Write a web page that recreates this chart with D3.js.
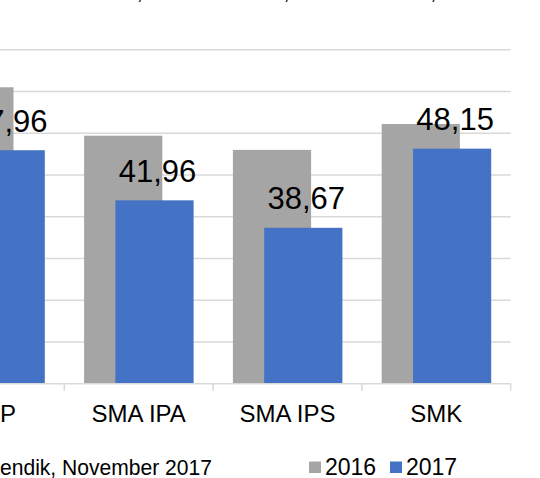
<!DOCTYPE html>
<html>
<head>
<meta charset="utf-8">
<script src="https://cdn.jsdelivr.net/npm/d3@7"></script>
<style>
  html, body { margin: 0; padding: 0; background: #fff; }
  svg { display: block; font-family: "Liberation Sans", Arial, sans-serif; }
</style>
</head>
<body>
<svg id="chart" width="540" height="478"></svg>
<script>
const categories = ["SMP", "SMA IPA", "SMA IPS", "SMK"];
const series = ["2016", "2017"];
const values2016 = [55.5, 49.7, 48.0, 51.1];
const values2017 = [47.96, 41.96, 38.67, 48.15];
const labels2017 = ["47,96", "41,96", "38,67", "48,15"];
const yTicks = [20, 25, 30, 35, 40, 45, 50, 55, 60];
const sourceText = "endik, November 2017";
const titleFragments = [",", ",", ","];

const colors = { "2016": "#a5a5a5", "2017": "#4472c4" };
const svg = d3.select("#chart");

const x = d3.scaleBand().domain(categories).range([-84.5, 510.7]).paddingInner(0).paddingOuter(0);
const xs = d3.scalePoint().domain(series).range([58.9, 90.2]);
const barW = 78.2;
const y = d3.scaleLinear().domain([20, 60]).range([383.7, 49.7]);

// remnants of the title line above (cut off at the top edge)
svg.append("g").selectAll("text").data(titleFragments).join("text")
  .attr("x", (d, i) => x(categories[i + 1]) + x.bandwidth() / 2 - 2 - i * 2)
  .attr("y", -1)
  .attr("font-size", 22)
  .attr("fill", "#000")
  .text(d => d);

// gridlines
svg.append("g").selectAll("line").data(yTicks.slice(1)).join("line")
  .attr("x1", 0).attr("x2", 510.7)
  .attr("y1", d => y(d)).attr("y2", d => y(d))
  .attr("stroke", "#d9d9d9").attr("stroke-width", 1.5);

const data = categories.map((c, i) => ({ c, v16: values2016[i], v17: values2017[i], lab: labels2017[i] }));

// 2016 bars
svg.append("g").selectAll("rect").data(data).join("rect")
  .attr("x", d => x(d.c) + xs("2016") - barW / 2)
  .attr("width", barW)
  .attr("y", d => y(d.v16))
  .attr("height", d => y(20) - y(d.v16))
  .attr("fill", colors["2016"]);

// 2017 bars
svg.append("g").selectAll("rect").data(data).join("rect")
  .attr("x", d => x(d.c) + xs("2017") - barW / 2)
  .attr("width", barW)
  .attr("y", d => y(d.v17))
  .attr("height", d => y(20) - y(d.v17))
  .attr("fill", colors["2017"]);

// x axis
const xAxis = d3.axisBottom(x).tickSize(0).tickFormat(d => d);
const gx = svg.append("g").attr("transform", `translate(0,${y(20)})`).call(xAxis);
gx.select(".domain").remove();
gx.selectAll(".tick text").attr("font-size", 24).attr("fill", "#000")
  .attr("font-family", "Liberation Sans, Arial, sans-serif").attr("dy", 0).attr("y", 38);
svg.append("line").attr("x1", 0).attr("x2", 510.7).attr("y1", y(20)).attr("y2", y(20))
  .attr("stroke", "#d9d9d9").attr("stroke-width", 1.5);
// category boundary ticks
const bounds = categories.slice(1).map(c => x(c)).concat([x(categories[3]) + x.bandwidth()]);
svg.append("g").selectAll("line").data(bounds).join("line")
  .attr("x1", d => d).attr("x2", d => d)
  .attr("y1", y(20)).attr("y2", y(20) + 7)
  .attr("stroke", "#d9d9d9").attr("stroke-width", 1.5);

// data labels
svg.append("g").selectAll("text").data(data).join("text")
  .attr("x", d => x(d.c) + xs("2017") + 3)
  .attr("y", d => y(d.v17) - 18.5)
  .attr("text-anchor", "middle")
  .attr("font-size", 31)
  .attr("fill", "#000")
  .text(d => d.lab);

// source
svg.append("text")
  .attr("x", 212).attr("y", 475)
  .attr("text-anchor", "end")
  .attr("font-size", 22)
  .attr("textLength", 212)
  .attr("lengthAdjust", "spacingAndGlyphs")
  .attr("fill", "#000")
  .text(sourceText);

// legend
const legend = svg.append("g");
const legendX = [309, 390];
series.forEach((s, i) => {
  legend.append("rect").attr("x", legendX[i]).attr("y", 461.5).attr("width", 12).attr("height", 11.5).attr("fill", colors[s]);
  legend.append("text").attr("x", legendX[i] + 16).attr("y", 475).attr("font-size", 23).attr("fill", "#000").text(s);
});
</script>
</body>
</html>
